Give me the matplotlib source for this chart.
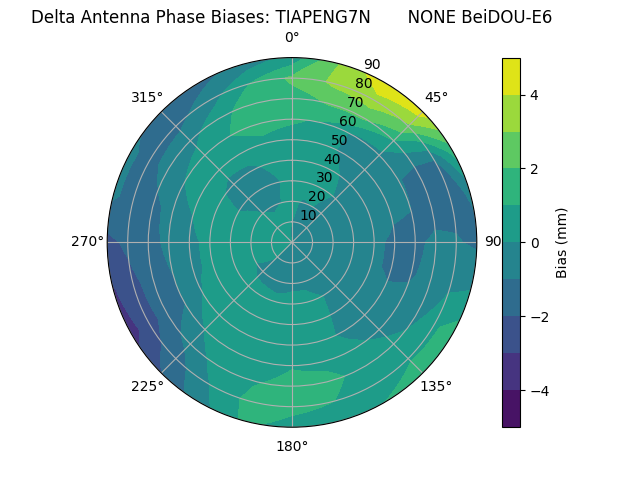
import numpy as np
import matplotlib
matplotlib.use("Agg")
import matplotlib.pyplot as plt

# azimuth (deg, clockwise from north) and zenith angle (deg)
azimuth = list(range(0, 360, 15))
zenith = [0, 10, 20, 30, 40, 50, 60, 70, 80, 90]

# bias in mm, one row per zenith ring, one column per azimuth
bias_z00 = [0.0] * 24
bias_z10 = [0.0, -0.2, -0.3, -0.4, -0.4, -0.5, -0.5, -0.5, -0.5, -0.4, -0.4, -0.4,
            -0.4, -0.3, -0.3, 0.0, 0.1, 0.2, 0.2, 0.2, 0.3, 0.3, 0.2, 0.2]
bias_z20 = [0.2, -0.1, 0.0, -0.5, -0.5, -0.6, -0.6, -0.6, -0.6, -0.5, -0.3, -0.2,
            -0.2, -0.3, -0.2, -0.2, 0.0, 0.3, 0.4, 0.4, 0.4, 0.0, -0.1, 0.0]
bias_z30 = [0.5, 0.4, 0.3, -0.1, -0.6, -0.7, -0.7, -0.7, -0.6, -0.6, 0.0, 0.3,
            0.3, 0.2, 0.2, 0.3, 0.4, 0.5, 0.5, 0.4, 0.0, -0.4, -0.4, -0.2]
bias_z40 = [0.6, 0.5, 0.2, -0.4, -0.7, -0.8, -0.8, -0.8, -0.7, -0.6, -0.1, 0.5,
            0.5, 0.5, 0.4, 0.5, 0.5, 0.4, 0.3, 0.2, 0.2, -0.3, -0.3, 0.3]
bias_z50 = [0.7, 0.5, -0.2, -0.5, -0.8, -0.9, -1.2, -1.2, -0.8, -0.6, -0.3, 0.6,
            0.6, 0.6, 0.5, 0.5, 0.0, -0.4, -0.3, 0.0, 0.5, 0.4, 0.6, 0.8]
bias_z60 = [1.1, 0.9, -0.2, -0.3, -0.95, -1.0, -1.2, -1.1, -0.7, -0.4, 0.4, 0.7,
            0.9, 0.7, 0.6, 0.0, -1.0, -1.0, -0.8, -0.6, 0.0, 0.5, 1.0, 1.3]
bias_z70 = [1.6, 2.1, 2.2, 1.0, -1.3, -1.4, -0.8, -0.7, -0.4, 0.4, 0.6, 1.3,
            1.4, 0.9, 0.5, -0.7, -1.5, -1.5, -1.3, -1.3, -0.6, -0.4, 0.7, 1.5]
bias_z80 = [2.2, 3.2, 3.6, 2.8, -1.0, -1.4, -0.9, -0.2, 0.8, 0.9, 0.8, 1.0,
            1.3, 1.3, 0.0, -1.5, -2.5, -2.3, -1.8, -1.5, -1.4, -1.3, -0.5, 1.0]
bias_z90 = [0.3, 3.0, 4.8, 4.5, 1.5, -0.9, -1.2, 0.0, 1.5, 1.4, 1.0, 0.6,
            0.6, 1.2, -0.4, -2.0, -3.4, -3.1, -2.3, -0.8, -0.8, -1.4, -1.3, -0.6]

bias = np.array([bias_z00, bias_z10, bias_z20, bias_z30, bias_z40,
                 bias_z50, bias_z60, bias_z70, bias_z80, bias_z90])

# close the circle
az = np.append(azimuth, 360)
bias = np.column_stack([bias, bias[:, 0]])
theta, r = np.meshgrid(np.radians(az), zenith)

fig, ax = plt.subplots(figsize=(6.4, 4.8), subplot_kw={'projection': 'polar'})
ax.set_theta_zero_location('N')
ax.set_theta_direction(-1)
cs = ax.contourf(theta, r, bias, levels=np.linspace(-5, 5, 11), cmap='viridis')
# let the polar transform bend the contour edges into arcs
for p in cs.get_paths():
    p._interpolation_steps = 60
ax.set_ylim(0, 90)
ax.set_rticks(range(10, 91, 10))
ax.grid(True)
cb = fig.colorbar(cs, ax=ax)
cb.set_label('Bias (mm)')
ax.set_title('Delta Antenna Phase Biases: TIAPENG7N       NONE BeiDOU-E6')
plt.savefig('out.png')
